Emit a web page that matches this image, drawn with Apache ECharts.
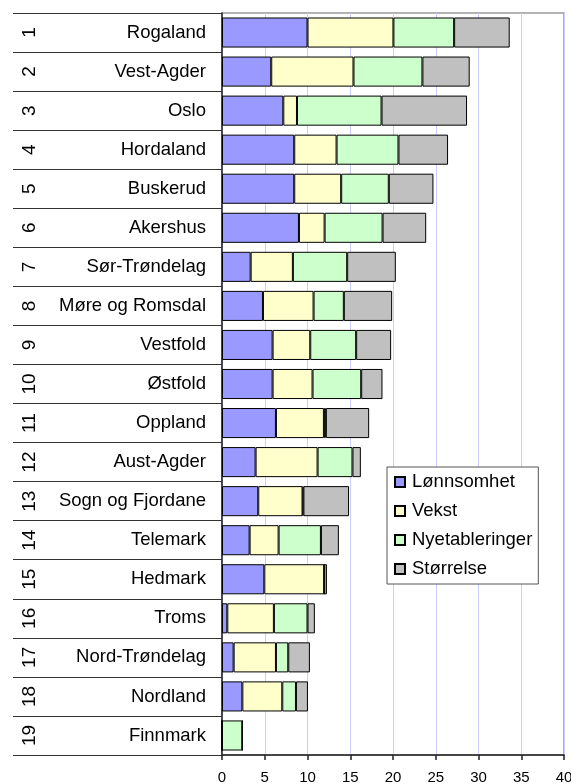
<!DOCTYPE html>
<html>
<head>
<meta charset="utf-8">
<script src="https://cdn.jsdelivr.net/npm/echarts@6/dist/echarts.min.js"></script>
<style>
html,body{margin:0;padding:0;background:#fff;}
#c{width:571px;height:784px;}
</style>
</head>
<body>
<div id="c"></div>
<script>
const ranks = ['1','2','3','4','5','6','7','8','9','10','11','12','13','14','15','16','17','18','19'];
const counties = ['Rogaland','Vest-Agder','Oslo','Hordaland','Buskerud','Akershus','Sør-Trøndelag','Møre og Romsdal','Vestfold','Østfold','Oppland','Aust-Agder','Sogn og Fjordane','Telemark','Hedmark','Troms','Nord-Trøndelag','Nordland','Finnmark'];
const lonnsomhet = [10.0, 5.76, 7.17, 8.45, 8.45, 9.0, 3.35, 4.79, 5.92, 5.92, 6.31, 3.93, 4.24, 3.23, 4.95, 0.62, 1.36, 2.38, 0];
const vekst = [10.05, 9.62, 1.6, 4.95, 5.49, 3.0, 4.94, 5.92, 4.4, 4.67, 5.61, 7.25, 5.18, 3.39, 7.0, 5.45, 4.95, 4.67, 0];
const nyetableringer = [7.1, 8.06, 9.89, 7.24, 5.57, 6.78, 6.35, 3.54, 5.37, 5.69, 0.23, 4.08, 0.1, 4.95, 0, 3.93, 1.44, 1.6, 2.38];
const storrelse = [6.5, 5.53, 10.0, 5.8, 5.22, 5.1, 5.69, 5.65, 4.09, 2.49, 5.06, 0.98, 5.34, 2.1, 0.32, 0.86, 2.53, 1.4, 0];
const seriesNames = ['Lønnsomhet','Vekst','Nyetableringer','Størrelse'];
const xTicks = {min: 0, max: 40, interval: 5};

const font = "'Liberation Sans', Arial, sans-serif";
const colors = ['#9999ff','#ffffcc','#ccffcc','#c0c0c0'];
const values = [lonnsomhet, vekst, nyetableringer, storrelse];

const chart = echarts.init(document.getElementById('c'), null, {renderer:'canvas'});
chart.setOption({
  animation: false,
  backgroundColor: '#fff',
  textStyle: {fontFamily: font, color: '#000'},
  grid: {left: 222, right: 7, top: 13, bottom: 29, show: true, borderColor: '#999', borderWidth: 1.5, containLabel: false, outerBoundsMode: 'none'},
  legend: {
    orient: 'vertical',
    left: 387, top: 467,
    padding: [5, 6, 5, 7],
    itemWidth: 10, itemHeight: 10, itemGap: 9,
    backgroundColor: '#fff',
    borderColor: '#555', borderWidth: 1,
    data: seriesNames,
    textStyle: {fontSize: 18.5, color: '#000', fontFamily: font, lineHeight: 20, padding: [0,0,0,2]},
    icon: 'rect'
  },
  xAxis: {
    type: 'value', min: xTicks.min, max: xTicks.max, interval: xTicks.interval,
    axisLine: {show: true, lineStyle: {color: '#222', width: 1.5}},
    axisTick: {show: true, length: 5, lineStyle: {color: '#222', width: 1.5}},
    axisLabel: {fontSize: 15, color: '#000', margin: 15, fontFamily: font, hideOverlap: false},
    splitLine: {show: true, lineStyle: {color: '#ccccff', width: 1}}
  },
  yAxis: [{
    type: 'category', inverse: true, data: counties,
    axisLine: {show: true, lineStyle: {color: '#222', width: 1.5}},
    axisTick: {show: true, length: 209, lineStyle: {color: '#333', width: 1.2}},
    axisLabel: {fontSize: 18.5, color: '#000', margin: 16, fontFamily: font}
  }, {
    type: 'category', inverse: true, data: ranks, position: 'left',
    axisLine: {show: false}, axisTick: {show: false},
    axisLabel: {fontSize: 19, color: '#000', margin: 192, rotate: 90, align: 'center', verticalAlign: 'middle',
      fontFamily: "'Liberation Sans Narrow', 'Liberation Sans', Arial, sans-serif"}
  }],
  series: seriesNames.map((n, i) => ({
    name: n, type: 'bar', stack: 'total', yAxisIndex: 0,
    barCategoryGap: '23%',
    data: values[i],
    itemStyle: {color: colors[i], borderColor: '#000', borderWidth: 1}
  }))
});
</script>
</body>
</html>
